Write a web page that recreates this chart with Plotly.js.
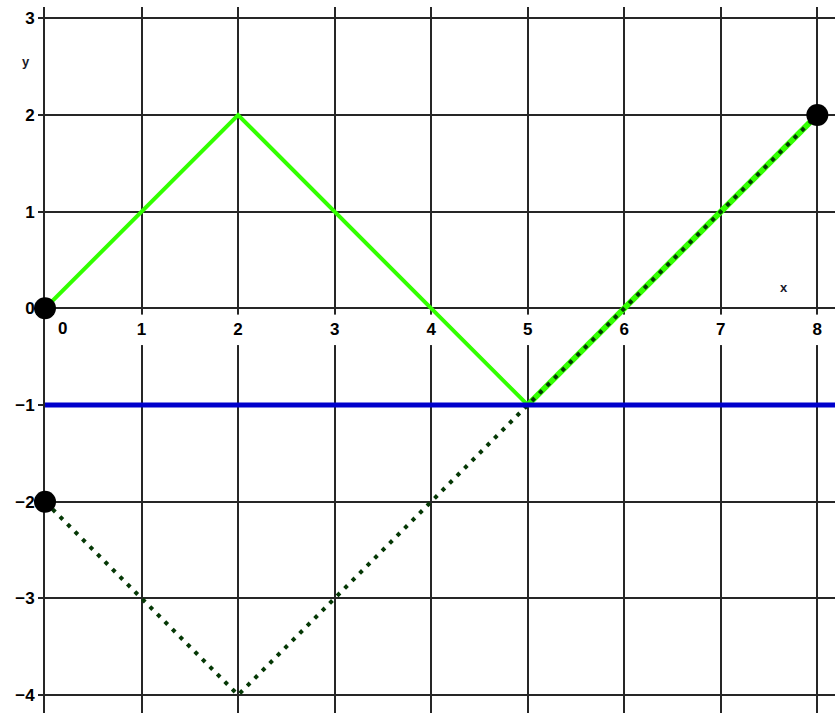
<!DOCTYPE html>
<html>
<head>
<meta charset="utf-8">
<script src="https://cdn.plot.ly/plotly-3.0.1.min.js"></script>
<style>
html,body{margin:0;padding:0;background:#fff;}
#chart{width:835px;height:713px;}
</style>
</head>
<body>
<div id="chart"></div>
<script>
// ---- data ----
const xTickVals = [0, 1, 2, 3, 4, 5, 6, 7, 8];
const xTickLabels = ['', '1', '2', '3', '4', '5', '6', '7', '8'];
const yTickVals = [-4, -3, -2, -1, 0, 1, 2, 3];
const yTickLabels = ['−4', '−3', '−2', '−1', '0', '1', '2', '3'];

const fX = [0, 2, 5, 8];
const fY = [0, 2, -1, 2];

const overlapX = [5, 8];
const overlapY = [-1, 2];

const gX = [0, 2, 5, 8];
const gY = [-2, -4, -1, 2];

const hX = [0, 9];
const hY = [-1, -1];

const ptX = [0, 0, 8];
const ptY = [0, -2, 2];

// ---- layout helpers ----
const xRange = [0, 8.183];
const yRange = [-4.186, 3.117];
const gridColor = '#262626';
const xAxisPos = (0 - yRange[0]) / (yRange[1] - yRange[0]);
const bold = s => s === '' ? '' : '<b>' + s + '</b>';

const traces = [
  {x: fX, y: fY, mode: 'lines', line: {color: '#33ff00', width: 4}, hoverinfo: 'skip'},
  {x: overlapX, y: overlapY, mode: 'lines', line: {color: '#33ff00', width: 6}, hoverinfo: 'skip'},
  {x: gX, y: gY, mode: 'lines', line: {color: '#053805', width: 4, dash: '4px,6.6px'}, hoverinfo: 'skip'},
  {x: hX, y: hY, mode: 'lines', line: {color: '#0000cc', width: 5}, hoverinfo: 'skip'},
  {x: ptX, y: ptY, mode: 'markers', cliponaxis: false,
   marker: {color: '#000', size: 22, line: {width: 0}}, hoverinfo: 'skip'}
];

const shapes = xTickVals.filter(v => v > 0).map(v => ({
  type: 'rect', xref: 'x', yref: 'y', layer: 'between',
  x0: v - 0.07, x1: v + 0.07, y0: -0.065, y1: -0.38,
  fillcolor: '#ffffff', line: {width: 0}
}));

const tickFont = {family: 'Liberation Sans, Arial, sans-serif', size: 17, color: '#000'};

const layout = {
  width: 835, height: 713,
  margin: {l: 45, r: 0, t: 7, b: 0, pad: 0},
  paper_bgcolor: '#fff', plot_bgcolor: '#fff',
  showlegend: false,
  xaxis: {
    range: xRange, anchor: 'free', position: xAxisPos,
    tickvals: xTickVals, ticktext: xTickLabels.map(bold),
    showgrid: true, gridcolor: gridColor, gridwidth: 2,
    zeroline: false, showline: true, linecolor: gridColor, linewidth: 2,
    ticks: 'outside', ticklen: 5, tickwidth: 2, tickcolor: gridColor,
    tickfont: tickFont, fixedrange: true, layer: 'below traces'
  },
  yaxis: {
    range: yRange, tickvals: yTickVals, ticktext: yTickLabels.map(bold),
    showgrid: true, gridcolor: gridColor, gridwidth: 2,
    zeroline: true, zerolinecolor: gridColor, zerolinewidth: 2,
    showline: true, linecolor: gridColor, linewidth: 2,
    ticks: 'outside', ticklen: 5, tickwidth: 2, tickcolor: gridColor,
    tickfont: tickFont, fixedrange: true, layer: 'below traces'
  },
  shapes: shapes,
  annotations: [
    {xref: 'x', yref: 'y', x: 0, y: 0, xshift: 17, yshift: -20, text: '<b>0</b>', showarrow: false, font: tickFont},
    {xref: 'x', yref: 'y', x: 7.65, y: 0.22, text: '<b>x</b>', showarrow: false,
     font: {family: 'Liberation Sans, Arial, sans-serif', size: 13, color: '#1a1a2a'}},
    {xref: 'x', yref: 'y', x: 0, y: 2.55, xshift: -19, text: '<b>y</b>', showarrow: false,
     font: {family: 'Liberation Sans, Arial, sans-serif', size: 13, color: '#1a1a2a'}}
  ]
};

Plotly.newPlot('chart', traces, layout, {staticPlot: true, displayModeBar: false});
</script>
</body>
</html>
